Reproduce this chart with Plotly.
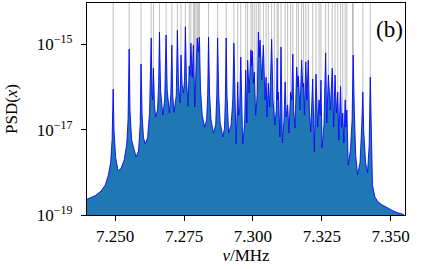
import plotly.graph_objects as go

# Spectrum outline: frequency (MHz) and log10 PSD
freq_mhz = [
    7.2398, 7.2427, 7.2449, 7.2464, 7.2475, 7.2484, 7.2489, 7.2493, 7.2496, 7.2502,
    7.2511, 7.2522, 7.2533, 7.2542, 7.2547, 7.2551, 7.2554, 7.2560, 7.2576, 7.2585,
    7.2591, 7.2594, 7.2598, 7.2603, 7.2609, 7.2618, 7.2625, 7.2631, 7.2634, 7.2636,
    7.2639, 7.2643, 7.2647, 7.2654, 7.2658, 7.2661, 7.2665, 7.2673, 7.2680, 7.2682,
    7.2685, 7.2689, 7.2697, 7.2702, 7.2706, 7.2709, 7.2714, 7.2722, 7.2726, 7.2730,
    7.2736, 7.2739, 7.2743, 7.2748, 7.2752, 7.2755, 7.2759, 7.2765, 7.2769, 7.2772,
    7.2775, 7.2780, 7.2784, 7.2789, 7.2798, 7.2802, 7.2806, 7.2810, 7.2816, 7.2825,
    7.2832, 7.2836, 7.2839, 7.2843, 7.2848, 7.2857, 7.2865, 7.2869, 7.2872, 7.2876,
    7.2881, 7.2891, 7.2897, 7.2900, 7.2903, 7.2906, 7.2912, 7.2921, 7.2927, 7.2931,
    7.2934, 7.2939, 7.2943, 7.2945, 7.2948, 7.2952, 7.2956, 7.2960, 7.2963, 7.2970,
    7.2974, 7.2978, 7.2981, 7.2986, 7.2993, 7.2996, 7.2998, 7.3002, 7.3005, 7.3010,
    7.3016, 7.3020, 7.3023, 7.3026, 7.3032, 7.3038, 7.3044, 7.3048, 7.3051, 7.3056,
    7.3061, 7.3068, 7.3073, 7.3080, 7.3085, 7.3088, 7.3090, 7.3092, 7.3098, 7.3102,
    7.3107, 7.3113, 7.3117, 7.3121, 7.3126, 7.3131, 7.3137, 7.3141, 7.3145, 7.3148,
    7.3153, 7.3159, 7.3163, 7.3165, 7.3171, 7.3177, 7.3181, 7.3184, 7.3187, 7.3192,
    7.3196, 7.3201, 7.3205, 7.3210, 7.3217, 7.3220, 7.3223, 7.3229, 7.3235, 7.3240,
    7.3244, 7.3247, 7.3251, 7.3258, 7.3264, 7.3268, 7.3274, 7.3281, 7.3288, 7.3293,
    7.3298, 7.3303, 7.3308, 7.3312, 7.3318, 7.3322, 7.3326, 7.3330, 7.3335, 7.3338,
    7.3341, 7.3346, 7.3354, 7.3360, 7.3362, 7.3364, 7.3368, 7.3373, 7.3380, 7.3389,
    7.3395, 7.3399, 7.3402, 7.3409, 7.3416, 7.3422, 7.3426, 7.3430, 7.3434, 7.3443,
    7.3454, 7.3468, 7.3487, 7.3508, 7.3526, 7.3548,
]
psd_log10 = [
    -18.63, -18.55, -18.44, -18.30, -18.08, -17.76, -17.24, -16.05, -17.01, -17.66,
    -17.97, -17.90, -17.71, -17.36, -16.77, -15.11, -16.54, -17.24, -17.64, -17.50,
    -16.89, -15.46, -16.66, -17.19, -17.33, -17.19, -16.59, -14.85, -16.19, -16.30,
    -15.56, -16.42, -16.70, -16.54, -15.95, -14.71, -16.07, -16.66, -16.30, -15.72,
    -14.78, -16.07, -16.61, -16.19, -15.02, -16.19, -16.59, -16.19, -14.67, -15.95,
    -16.37, -15.25, -15.95, -16.14, -15.84, -14.59, -15.84, -16.45, -15.51, -15.72,
    -14.97, -15.77, -15.02, -16.47, -14.85, -15.18, -14.83, -16.07, -16.66, -16.94,
    -16.77, -16.19, -14.83, -16.19, -16.77, -17.08, -16.89, -16.19, -14.85, -16.19,
    -16.82, -17.17, -16.96, -16.30, -14.85, -16.19, -17.08, -16.89, -16.30, -14.97,
    -16.30, -17.33, -16.54, -15.88, -16.66, -16.54, -15.30, -16.66, -17.33, -16.89,
    -15.60, -16.84, -15.37, -16.14, -15.13, -15.51, -15.16, -15.91, -15.65, -16.66,
    -16.19, -14.71, -15.30, -14.90, -15.84, -15.02, -16.30, -15.77, -16.70, -15.91,
    -16.47, -14.88, -16.30, -16.89, -16.54, -15.32, -16.30, -16.12, -17.17, -15.06,
    -17.31, -16.77, -15.88, -16.70, -16.42, -17.08, -16.12, -16.30, -15.23, -16.54,
    -16.96, -15.53, -16.00, -15.74, -16.54, -15.37, -16.00, -15.91, -16.66, -15.41,
    -16.30, -15.37, -16.54, -17.05, -15.81, -16.77, -17.52, -15.70, -16.94, -16.30,
    -16.66, -15.84, -17.43, -16.89, -15.20, -16.84, -15.72, -16.54, -15.56, -16.94,
    -15.72, -16.61, -16.12, -17.24, -15.98, -16.94, -16.61, -17.31, -16.30, -16.94,
    -16.54, -17.83, -17.48, -16.77, -16.12, -15.25, -16.54, -17.59, -18.06, -17.76,
    -16.89, -16.12, -17.01, -17.78, -18.01, -17.36, -15.77, -17.36, -18.30, -18.58,
    -18.69, -18.76, -18.83, -18.90, -18.95, -18.99,
]
psd = [10 ** v for v in psd_log10]

# Mode frequencies (grey vertical markers), MHz
mode_mhz = [
    7.2493, 7.2551, 7.2594, 7.2631, 7.2639, 7.2661, 7.2685, 7.2706, 7.2726, 7.2739,
    7.2755, 7.2769, 7.2775, 7.2784, 7.2788, 7.2793, 7.2798, 7.2802, 7.2806, 7.2839,
    7.2872, 7.2903, 7.2931, 7.2945, 7.2956, 7.2974, 7.2981, 7.2993, 7.2998, 7.3005,
    7.3012, 7.3020, 7.3026, 7.3038, 7.3048, 7.3056, 7.3068, 7.3078, 7.3088, 7.3092,
    7.3102, 7.3117, 7.3126, 7.3137, 7.3145, 7.3159, 7.3165, 7.3177, 7.3184, 7.3192,
    7.3201, 7.3217, 7.3229, 7.3240, 7.3247, 7.3264, 7.3274, 7.3288, 7.3298, 7.3308,
    7.3318, 7.3326, 7.3335, 7.3341, 7.3362, 7.3364, 7.3399, 7.3426,
]

x_ticks = [7.250, 7.275, 7.300, 7.325, 7.350]
x_ticklabels = ["7.250", "7.275", "7.300", "7.325", "7.350"]
y_ticks = [1e-19, 1e-17, 1e-15]
y_ticklabels = ["10<sup>\u221219</sup>", "10<sup>\u221217</sup>", "10<sup>\u221215</sup>"]

FONT = "Liberation Serif"

fig = go.Figure()
fig.add_trace(go.Scatter(
    x=freq_mhz, y=[1e-19] * len(freq_mhz), mode="lines",
    line=dict(width=0, color="rgba(0,0,0,0)"), showlegend=False, hoverinfo="skip",
))
fig.add_trace(go.Scatter(
    x=freq_mhz, y=psd, mode="lines", fill="tonexty", fillcolor="#1f77b4",
    line=dict(color="rgba(0,0,255,0.85)", width=1), showlegend=False,
))

for f in mode_mhz:
    fig.add_shape(type="line", xref="x", yref="paper", x0=f, x1=f, y0=0, y1=1,
                  line=dict(color="rgba(128,128,128,0.5)", width=1), layer="below")

fig.add_annotation(text="(b)", xref="paper", yref="paper", x=1.0, y=0.877,
                   xanchor="right", yanchor="middle", showarrow=False,
                   font=dict(family=FONT, size=23, color="black"))

fig.update_layout(
    width=436, height=269,
    margin=dict(l=87, r=31, t=3, b=54),
    plot_bgcolor="white", paper_bgcolor="white",
    font=dict(family=FONT, size=17, color="black"),
    showlegend=False,
    xaxis=dict(
        range=[7.2398, 7.3552], tickvals=x_ticks, ticktext=x_ticklabels,
        showline=True, linecolor="black", linewidth=1.3, mirror=True,
        ticks="outside", ticklen=5, tickwidth=1.2, tickcolor="black",
        showgrid=False, zeroline=False,
        title=dict(text="<i>\u03bd</i>/MHz", standoff=4, font=dict(size=17)),
    ),
    yaxis=dict(
        type="log", range=[-19, -14.03], tickvals=y_ticks, ticktext=y_ticklabels,
        showline=True, linecolor="black", linewidth=1.3, mirror=True,
        ticks="outside", ticklen=5, tickwidth=1.2, tickcolor="black",
        ticklabelstandoff=5,
        showgrid=False, zeroline=False,
        title=dict(text="PSD(<i>x</i>)", standoff=14, font=dict(size=17)),
    ),
)

fig.write_html(
    "out.html",
    config={"displayModeBar": False},
    post_script="document.body.style.margin='0';document.body.style.padding='0';",
)
